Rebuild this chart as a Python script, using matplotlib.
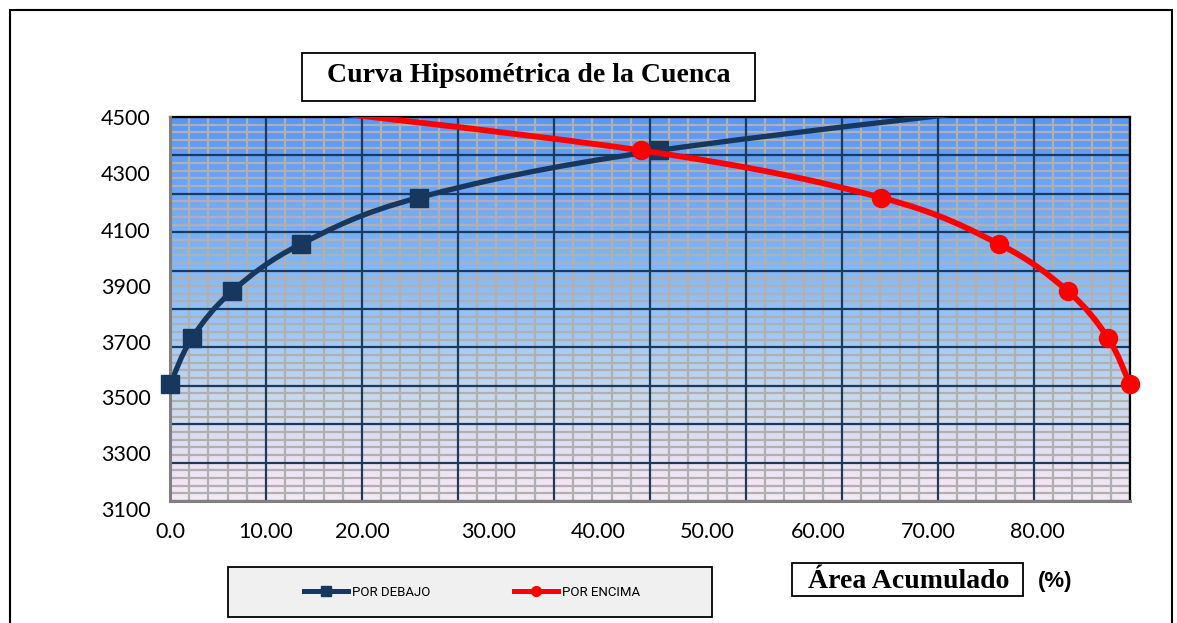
import numpy as np
import matplotlib
matplotlib.use("Agg")
import matplotlib.pyplot as plt
from matplotlib.path import Path
from matplotlib.patches import PathPatch, Rectangle
from matplotlib.colors import LinearSegmentedColormap
from matplotlib.lines import Line2D
from matplotlib.transforms import Bbox, TransformedBbox

# elevation (m) and cumulative area (%)
elevation = [3525, 3695, 3866, 4036, 4206, 4378, 4585]
por_debajo = [0.0, 2.3, 6.5, 13.6, 25.9, 50.9, 100.0]
por_encima = [100.0, 97.7, 93.5, 86.4, 74.1, 49.1, 0.0]

# tick labels as they sit on the original (Excel placed them oddly)
xlab_pos = [0, 10, 20, 33.2, 44.6, 56.0, 67.5, 79.0, 90.4]
xlab_txt = ["0.0", "10.00", "20.00", "30.00", "40.00", "50.00", "60.00", "70.00", "80.00"]
ylab_vals = [3100, 3300, 3500, 3700, 3900, 4100, 4300, 4500]

W, H = 1177, 623


def fx(px):
    return px / W


def fy(py):
    return 1 - py / H


def smooth_path(xs, ys):
    # excel-like smoothed line: cubic bezier with catmull-rom control points
    p = np.column_stack([xs, ys]).astype(float)
    n = len(p)
    verts = [p[0]]
    codes = [Path.MOVETO]
    for i in range(n - 1):
        prev = p[i - 1] if i > 0 else p[i]
        nxt = p[i + 2] if i + 2 < n else p[i + 1]
        c1 = p[i] + (p[i + 1] - prev) / 6
        c2 = p[i + 1] - (nxt - p[i]) / 6
        verts += [c1, c2, p[i + 1]]
        codes += [Path.CURVE4] * 3
    return Path(verts, codes)


fig = plt.figure(figsize=(W / 100, H / 100), dpi=100)

# outer chart frame
fig.patches.append(Rectangle((fx(10), fy(640)), fx(1162), (640 - 10) / H,
                             transform=fig.transFigure, fill=False,
                             edgecolor="black", lw=1.5))

ax = fig.add_axes([fx(170), fy(501), 960 / W, 384 / H])
ax.set_xlim(0, 100)
ax.set_ylim(3100, 4500)

# gradient plot area
cmap = LinearSegmentedColormap.from_list("bg", [
    (0.0, "#5A96F5"), (0.35, "#7DB4F8"), (0.55, "#9CC6F5"),
    (0.72, "#C7D8EE"), (0.85, "#E0DEF2"), (0.93, "#F0E4F4"), (1.0, "#F6E9F6")])
ax.imshow(np.linspace(0, 1, 256)[:, None], extent=[0, 100, 3100, 4500],
          aspect="auto", cmap=cmap, zorder=0, origin="upper")

# grid
for v in np.arange(0, 100.1, 2):
    major = abs(v % 10) < 1e-6
    ax.axvline(v, color="#1B3A5C" if major else "#B0B0B0", lw=1.6, zorder=2 if major else 1)
for v in np.arange(3100, 4500.1, 28):
    major = abs((v - 3100) % 140) < 1e-6
    ax.axhline(v, color="#1B3A5C" if major else "#B0B0B0", lw=1.6, zorder=2 if major else 1)

# markers may spill over left/right edges but not above the top
mark_clip = TransformedBbox(Bbox([[-5, 3000], [105, 4500]]), ax.transData)

blue = "#17375E"
red = "#FF0000"
ax.add_patch(PathPatch(smooth_path(por_debajo, elevation), fill=False,
                       edgecolor=blue, lw=3.8, zorder=3, capstyle="butt"))
mb, = ax.plot(por_debajo, elevation, ls="none", marker="s", ms=12.5, color=blue, zorder=4)
ax.add_patch(PathPatch(smooth_path(por_encima, elevation), fill=False,
                       edgecolor=red, lw=4.2, zorder=5, capstyle="butt"))
mr, = ax.plot(por_encima, elevation, ls="none", marker="o", ms=13, color=red, zorder=6)
for m in (mb, mr):
    m.set_clip_box(mark_clip)

for s in ["left", "bottom"]:
    ax.spines[s].set_color("#808080")
    ax.spines[s].set_linewidth(2.2)
for s in ["top", "right"]:
    ax.spines[s].set_color("black")
    ax.spines[s].set_linewidth(1.6)
ax.spines["left"].set_zorder(3.5)

ax.set_yticks([])
ax.set_xticks(xlab_pos, xlab_txt)
ax.tick_params(axis="x", length=0, pad=15, labelsize=15.5)
for t in ax.get_xticklabels():
    t.set_family(["Lato", "DejaVu Sans"])

# y labels on their own (Excel spacing differs slightly from the grid)
axl = fig.add_axes([fx(170), fy(509.5), 960 / W, 392 / H])
axl.set_ylim(3100, 4500)
axl.set_xticks([])
axl.set_yticks(ylab_vals)
axl.tick_params(axis="y", length=0, pad=14, labelsize=15.5)
for t in axl.get_yticklabels():
    t.set_family(["Lato", "DejaVu Sans"])
axl.patch.set_visible(False)
for s in axl.spines.values():
    s.set_visible(False)

# title box
fig.patches.append(Rectangle((fx(302), fy(101)), (755 - 302) / W, (101 - 52.7) / H,
                             transform=fig.transFigure, facecolor="white",
                             edgecolor="black", lw=1.3))
fig.text(fx(529), fy(75), "Curva Hipsométrica de la Cuenca", ha="center", va="center",
         fontsize=20, fontweight="bold", family="Liberation Serif")

# x axis title box
fig.patches.append(Rectangle((fx(792), fy(596)), (1023 - 792) / W, (596 - 563) / H,
                             transform=fig.transFigure, facecolor="white",
                             edgecolor="black", lw=1.3))
fig.text(fx(909), fy(581), "Área Acumulado", ha="center", va="center",
         fontsize=20, fontweight="bold", family="Liberation Serif")
fig.text(fx(1055), fy(581), "(%)", ha="center", va="center",
         fontsize=16, fontweight="bold", family="Liberation Sans")

# legend box
fig.patches.append(Rectangle((fx(228), fy(617)), (712 - 228) / W, (617 - 567) / H,
                             transform=fig.transFigure, facecolor="#F0F0F0",
                             edgecolor="black", lw=1.3))
handles = [Line2D([], [], color=blue, lw=3.6, marker="s", ms=7),
           Line2D([], [], color=red, lw=3.6, marker="o", ms=7)]
fig.legend(handles, ["POR DEBAJO", "POR ENCIMA"], loc="center",
           bbox_to_anchor=(fx(472), fy(592)), ncol=2, frameon=False,
           handlelength=3.3, handletextpad=0.3, columnspacing=6.4,
           prop={"family": ["Roboto", "DejaVu Sans"], "size": 9.5})

fig.savefig("out.png", dpi=100)
